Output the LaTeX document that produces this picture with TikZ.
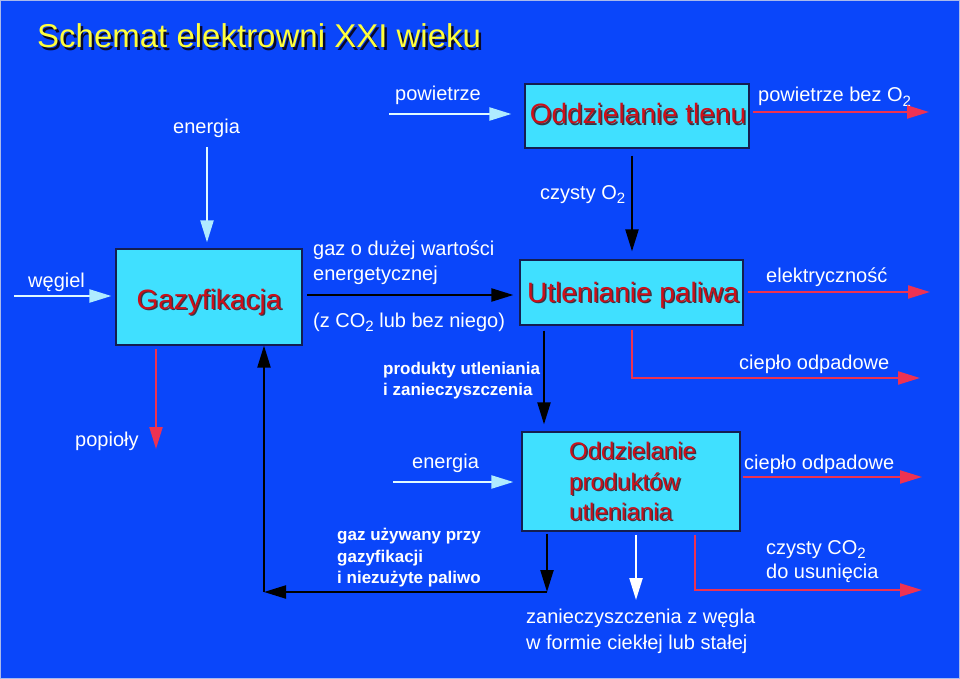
\documentclass[tikz,border=0pt]{standalone}
\usepackage{fontspec}
\setmainfont{Liberation Sans}
\usetikzlibrary{arrows.meta}
\definecolor{bgblue}{RGB}{10,70,250}
\definecolor{edgecol}{RGB}{170,185,235}
\definecolor{boxfill}{RGB}{64,224,255}
\definecolor{boxedge}{RGB}{20,30,80}
\definecolor{boxred}{RGB}{205,15,25}
\definecolor{txtshadow}{RGB}{55,55,70}
\definecolor{titleshadow}{RGB}{10,10,40}
\definecolor{titleyellow}{RGB}{255,255,60}
\definecolor{arrred}{RGB}{238,50,82}
\definecolor{lightline}{RGB}{225,250,255}
\definecolor{lighthead}{RGB}{175,235,255}
\newcommand\subtwo{\raisebox{-0.22em}{\fontsize{15}{15}\selectfont 2}}
\newcommand\shtext[3]{\makebox[0pt][l]{\hspace{#2}\raisebox{-#2}{\textcolor{#1}{#3}}}#3}
\tikzset{
  proc/.style={draw=boxedge, fill=boxfill, line width=1.2pt, inner sep=0pt},
  ptext/.style={text=boxred, font=\fontsize{28}{30}\selectfont, inner sep=0pt, anchor=base},
  otext/.style={text=boxred, font=\fontsize{24}{26}\selectfont, inner sep=0pt, anchor=base west},
  lbl/.style={text=white, font=\fontsize{20}{24}\selectfont, inner sep=0pt, anchor=base west},
  blbl/.style={text=white, font=\bfseries\fontsize{17}{20}\selectfont, inner sep=0pt, anchor=base west},
  titletext/.style={text=titleyellow, font=\fontsize{33}{36}\selectfont, inner sep=0pt, anchor=base west},
  blk/.style={draw=black, line width=2.2pt, -{Triangle[length=22pt,width=13pt]}},
  redar/.style={draw=arrred, line width=2.2pt, -{Triangle[length=22pt,width=13pt]}},
  lightar/.style={draw=lightline, line width=2.2pt, -{Triangle[length=22pt,width=13pt,color=lighthead]}},
  whitear/.style={draw=white, line width=2.2pt, -{Triangle[length=22pt,width=13pt]}},
}
\begin{document}
\begin{tikzpicture}[x=1pt,y=-1pt]
\path[use as bounding box, fill=bgblue] (0,0) rectangle (960,679);
\draw[edgecol, line width=1.2pt] (0.6,0.6) rectangle (959.4,678.4);

% title
\node[titletext] (title) at (37,48) {\shtext{titleshadow}{2.5pt}{Schemat elektrowni XXI wieku}};

% boxes
\node[proc, minimum width=224pt, minimum height=64pt] (tlen) at (637,116) {};
\node[proc, minimum width=186pt, minimum height=96pt] (gazbox) at (209,297) {};
\node[proc, minimum width=223pt, minimum height=65pt] (utl) at (631.5,292.5) {};
\node[proc, minimum width=218pt, minimum height=99pt] (odp) at (631,481.5) {};

% box texts with shadow
\node[ptext] (tlent) at (638,124) {\shtext{txtshadow}{1.5pt}{Oddzielanie tlenu}};
\node[ptext] (gazt) at (209,309) {\shtext{txtshadow}{1.5pt}{Gazyfikacja}};
\node[ptext] (utlt) at (633,302) {\shtext{txtshadow}{1.5pt}{Utlenianie paliwa}};
\node[otext] (odp1) at (569,459) {\shtext{txtshadow}{1.5pt}{Oddzielanie}};
\node[otext] (odp2) at (569,490) {\shtext{txtshadow}{1.5pt}{produktów}};
\node[otext] (odp3) at (569,520) {\shtext{txtshadow}{1.5pt}{utleniania}};

% labels
\node[lbl] (len1) at (173,134) {energia};
\node[lbl] (lpw) at (395,101) {powietrze};
\node[lbl] (lpbo) at (758,102) {powietrze bez O\subtwo};
\node[lbl] (lo2) at (540,199) {czysty O\subtwo};
\node[lbl] (lwg) at (28,287) {węgiel};
\node[lbl] (lg1) at (313,255) {gaz o dużej wartości};
\node[lbl] (lg2) at (313,280) {energetycznej};
\node[lbl] (lg3) at (313,327) {(z CO\subtwo{} lub bez niego)};
\node[lbl] (lel) at (766,282) {elektryczność};
\node[lbl] (lcp1) at (739,369) {ciepło odpadowe};
\node[blbl] (lpr1) at (383,374) {produkty utleniania};
\node[blbl] (lpr2) at (383,395) {i zanieczyszczenia};
\node[lbl] (lpop) at (75,446) {popioły};
\node[lbl] (len2) at (412,468) {energia};
\node[lbl] (lcp2) at (744,469) {ciepło odpadowe};
\node[blbl] (lgu1) at (337,540) {gaz używany przy};
\node[blbl] (lgu2) at (337,562) {gazyfikacji};
\node[blbl] (lgu3) at (337,583) {i niezużyte paliwo};
\node[lbl] (lc1) at (766,554) {czysty CO\subtwo};
\node[lbl] (lc2) at (766,578) {do usunięcia};
\node[lbl] (lz1) at (526,623) {zanieczyszczenia z węgla};
\node[lbl] (lz2) at (526,649) {w formie ciekłej lub stałej};

% coordinates for free ends and routing
\coordinate (e1a) at (207,147);
\coordinate (pw) at (389,114);
\coordinate (pbo) at (929,112);
\coordinate (o2col) at (632,200);
\coordinate (wg) at (14,296);
\coordinate (gx) at (307,295);
\coordinate (el) at (930,292);
\coordinate (cp1) at (920,378);
\coordinate (prcol) at (544,380);
\coordinate (pop) at (156,449);
\coordinate (rc1) at (547,592);
\coordinate (rc2) at (264,592);
\coordinate (e2a) at (393,482);
\coordinate (cp2) at (922,477);
\coordinate (wd) at (636,600);
\coordinate (cqcol) at (695,560);
\coordinate (cq) at (922,590);

% connectors
\draw[lightar, shorten >=6pt] (e1a) -- (e1a |- gazbox.north);
\draw[lightar, shorten >=13pt] (pw) -- (pw -| tlen.west);
\draw[redar, shorten <=3pt] (pbo -| tlen.east) -- (pbo);
\draw[blk, shorten <=7pt, shorten >=8pt] (o2col |- tlen.south) -- (o2col |- utl.north);
\draw[lightar, shorten >=4pt] (wg) -- (wg -| gazbox.west);
\draw[blk, shorten >=6pt] (gx) -- (gx -| utl.west);
\draw[redar, shorten <=4pt] (el -| utl.east) -- (el);
\draw[redar, shorten <=4pt] (o2col |- utl.south) |- (cp1);
\draw[blk, shorten <=5pt, shorten >=7pt] (prcol |- utl.south) -- (prcol |- odp.north);
\draw[redar, shorten <=3pt] (pop |- gazbox.south) -- (pop);
\draw[blk, shorten <=2pt] (rc1 |- odp.south) -- (rc1);
\draw[blk] (rc1) -- (rc2);
\draw[blk] (rc2) -- (rc2 |- gazbox.south);
\draw[lightar, shorten >=8pt] (e2a) -- (e2a -| odp.west);
\draw[redar, shorten <=2pt] (cp2 -| odp.east) -- (cp2);
\draw[whitear, shorten <=3pt] (wd |- odp.south) -- (wd);
\draw[redar, shorten <=3pt] (cqcol |- odp.south) |- (cq);
\end{tikzpicture}
\end{document}
